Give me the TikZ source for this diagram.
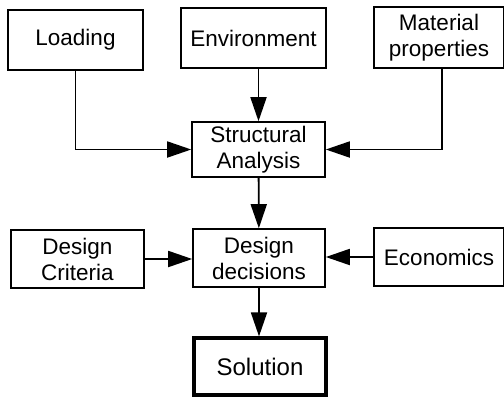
\documentclass[tikz,border=0pt]{standalone}
\usepackage{fontspec}
\setmainfont{Liberation Sans}
\usetikzlibrary{arrows.meta}

\begin{document}
\begin{tikzpicture}[x=1pt, y=-1pt,
  every node/.style = {shape=rectangle, draw, line width=1.6pt,
    align=center, inner sep=0pt,
    font=\fontsize{22.5}{26}\selectfont},
  flow/.style = {line width=1.8pt, -{Triangle[length=24pt,width=16pt]}}]
  \useasboundingbox (0,0) rectangle (504,400);
  % inputs on top
  \node[minimum width=135pt, minimum height=60pt] (load) at (75.5,40) {Loading};
  \node[minimum width=145pt, minimum height=60pt] (env) at (253.5,38) {Environment};
  \node[minimum width=130pt, minimum height=61pt] (mat) at (439,37.5) {Material\\properties};
  % middle rows
  \node[minimum width=133pt, minimum height=55pt] (anal) at (258.5,149.5) {Structural\\Analysis};
  \node[minimum width=133pt, minimum height=58pt] (crit) at (77.5,259) {Design\\Criteria};
  \node[minimum width=132pt, minimum height=58pt] (dec) at (259,258) {Design\\decisions};
  \node[minimum width=130pt, minimum height=58pt] (econ) at (439,257) {Economics};
  % result
  \node[minimum width=132pt, minimum height=57pt, line width=3.2pt,
    font=\fontsize{24}{28}\selectfont] (sol) at (260,366.5) {Solution};

  \draw[flow] (load.south) |- (anal.west);
  \draw[flow] (anal.north |- env.south) -- (anal.north);
  \draw[flow] ([xshift=3pt]mat.south) |- (anal.east);
  \draw[flow] (anal) -- (dec);
  \draw[flow] (crit.east) -- (crit.east -| dec.west);
  \draw[flow] (econ.west) -- (econ.west -| dec.east);
  \draw[flow] (dec.south) -- (dec.south |- sol.north);
\end{tikzpicture}
\end{document}
